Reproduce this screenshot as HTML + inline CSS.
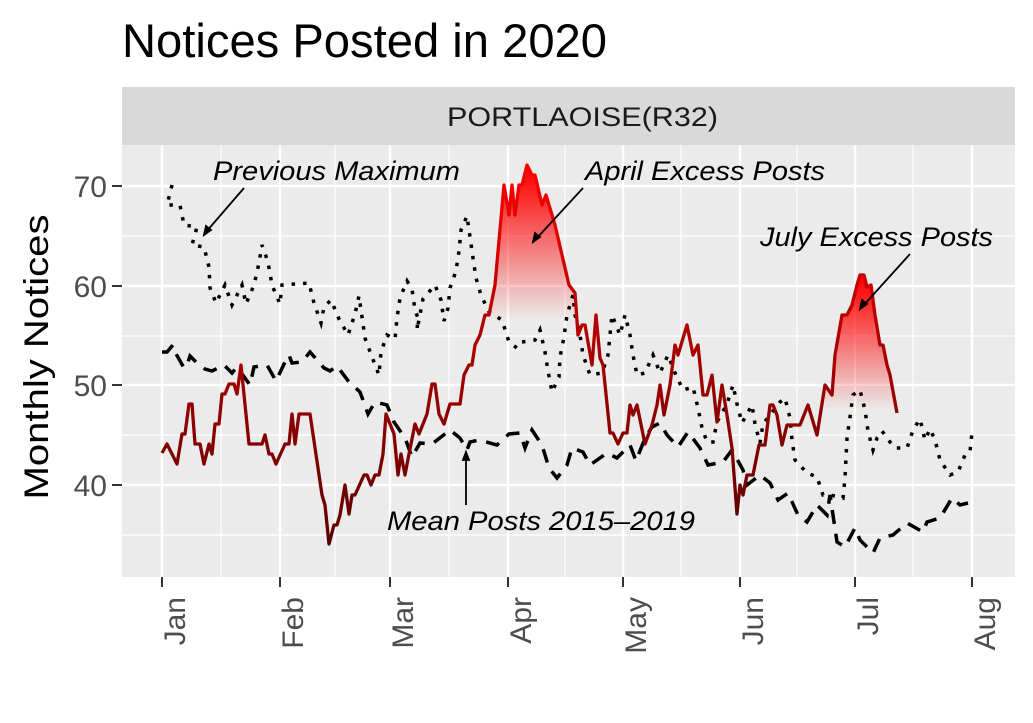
<!DOCTYPE html>
<html><head><meta charset="utf-8"><style>body{margin:0;background:#fff}svg{display:block;font-family:"Liberation Sans",sans-serif}</style></head><body>
<svg width="1033" height="723" viewBox="0 0 1033 723">
<defs>
<linearGradient id="lg" gradientUnits="userSpaceOnUse" x1="0" y1="165" x2="0" y2="545"><stop offset="0" stop-color="#ff0000"/><stop offset="0.45" stop-color="#b00000"/><stop offset="1" stop-color="#5a0000"/></linearGradient>
<linearGradient id="fa" gradientUnits="userSpaceOnUse" x1="0" y1="170" x2="0" y2="320"><stop offset="0" stop-color="#ff0000" stop-opacity="1"/><stop offset="1" stop-color="#ff0000" stop-opacity="0"/></linearGradient>
<linearGradient id="fj" gradientUnits="userSpaceOnUse" x1="0" y1="280" x2="0" y2="410"><stop offset="0" stop-color="#ff0000" stop-opacity="1"/><stop offset="1" stop-color="#ff0000" stop-opacity="0"/></linearGradient>
</defs>
<text x="122" y="57" font-size="47" textLength="485" lengthAdjust="spacingAndGlyphs">Notices Posted in 2020</text>
<rect x="122" y="87" width="893" height="58" fill="#d9d9d9"/>
<text x="447" y="126" font-size="27" textLength="271" lengthAdjust="spacingAndGlyphs" fill="#1a1a1a">PORTLAOISE(R32)</text>
<rect x="122" y="145" width="893" height="432" fill="#ebebeb"/>
<g stroke="#fff" stroke-width="1.2"><line x1="122" x2="1015" y1="236" y2="236"/><line x1="122" x2="1015" y1="336" y2="336"/><line x1="122" x2="1015" y1="435" y2="435"/><line x1="122" x2="1015" y1="535" y2="535"/>
<line y1="145" y2="577" x1="221" x2="221"/><line y1="145" y2="577" x1="335" x2="335"/><line y1="145" y2="577" x1="449" x2="449"/><line y1="145" y2="577" x1="565" x2="565"/><line y1="145" y2="577" x1="681" x2="681"/><line y1="145" y2="577" x1="797" x2="797"/><line y1="145" y2="577" x1="913" x2="913"/></g>
<g stroke="#fff" stroke-width="2.4"><line x1="122" x2="1015" y1="186" y2="186"/><line x1="122" x2="1015" y1="286" y2="286"/><line x1="122" x2="1015" y1="385" y2="385"/><line x1="122" x2="1015" y1="485" y2="485"/>
<line y1="145" y2="577" x1="162" x2="162"/><line y1="145" y2="577" x1="280" x2="280"/><line y1="145" y2="577" x1="390" x2="390"/><line y1="145" y2="577" x1="508" x2="508"/><line y1="145" y2="577" x1="623" x2="623"/><line y1="145" y2="577" x1="740" x2="740"/><line y1="145" y2="577" x1="855" x2="855"/><line y1="145" y2="577" x1="972" x2="972"/></g>
<polygon fill="url(#fa)" points="489,315 495,285 504,185 509,215 512,185 515,215 519,185 522,185 527,165 532,175 535,175 542,205 546,195 555,225 569,285 575,293 578,335 489,335"/>
<polygon fill="url(#fj)" points="825,385 832,395 835,355 842,315 847,315 852,305 857,285 860,275 864,275 867,287 871,285 875,315 880,345 883,345 887,365 890,375 897,413 825,413"/>
<polyline fill="none" stroke="#000" stroke-width="3.5" stroke-dasharray="3.5,8" points="172,185 167,205 180,205 184,225 197,227 192,245 204,247 209,267 210,288 216,303 225,285 232,305 242,285 246,304 254,285 259,263 262,245 268,262 272,285 280,304 282,285 309,283 314,303 321,323 324,307 331,300 339,319 348,335 355,314 359,296 362,317 365,338 372,357 379,375 381,352 387,335 395,339 397,318 400,298 407,281 412,289 415,310 418,318 417,330 423,299 435,285 441,300 444,321 448,308 450,288 456,271 459,251 461,230 467,216 470,237 473,258 476,278 481,295 489,312 502,320 509,342 517,348 522,342 535,340 540,330 545,352 548,371 552,392 559,377 560,357 564,337 567,315 573,295 575,315 580,335 583,355 590,375 602,373 608,355 610,335 612,315 620,335 625,315 630,335 633,355 637,375 645,373 653,355 660,373 668,355 675,373 683,390 693,387 698,408 702,428 707,442 713,442 717,422 727,404 733,385 737,404 742,423 752,405 755,424 760,443 763,424 773,411 780,402 785,398 790,418 792,440 795,460 807,473 817,477 823,495 830,495 843,498 845,478 846,458 847,438 850,417 853,395 860,390 865,410 868,431 873,450 877,438 882,431 890,442 895,448 907,448 913,430 920,419 925,440 930,429 935,440 940,460 950,475 958,472 965,455 970,452 972,432"/>
<polyline fill="none" stroke="#000" stroke-width="3.5" stroke-dasharray="14,10" points="162,352 167,352 173,345 175,352 184,368 187,365 190,356 199,365 205,369 212,371 224,365 232,373 237,367 250,385 254,367 267,365 276,381 285,362 289,355 292,363 302,362 310,352 324,368 330,371 337,366 349,382 360,392 368,414 375,402 387,405 394,422 405,438 412,457 420,443 432,444 450,430 460,438 467,450 470,442 479,440 497,445 509,434 520,433 525,448 532,430 542,445 549,468 557,478 567,465 572,448 583,452 590,465 607,453 617,458 630,445 636,461 645,438 652,427 660,423 667,435 678,447 688,432 700,448 708,465 723,462 732,450 743,470 747,485 760,475 770,483 778,500 788,493 798,515 807,522 817,505 827,515 830,495 837,542 845,547 855,528 860,540 873,553 880,538 893,535 907,523 923,532 927,522 940,518 952,498 960,505 968,503"/>
<polyline fill="none" stroke="url(#lg)" stroke-width="3.3" stroke-linejoin="round" points="162,453 167,444 177,464 182,434 185,434 189,404 192,404 195,444 200,444 204,464 209,444 212,454 215,424 219,424 222,394 225,394 229,384 234,384 237,394 241,365 249,444 262,444 265,435 269,454 272,454 276,464 285,444 289,444 292,414 295,444 299,414 310,414 322,495 325,505 329,544 334,525 337,525 340,515 345,485 349,514 352,495 355,495 364,475 367,475 371,485 375,475 379,475 383,454 386,414 390,424 394,434 398,475 401,454 405,475 409,454 415,424 419,434 427,414 432,384 435,384 439,414 444,424 450,404 460,404 464,375 469,365 472,365 475,345 480,335 485,315 489,315 495,285 504,185 509,215 512,185 515,215 519,185 522,185 527,165 532,175 535,175 542,205 546,195 555,225 569,285 575,293 578,335 582,325 585,325 592,365 596,315 600,358 603,365 610,433 613,433 618,444 623,433 627,433 630,405 633,415 637,405 645,444 652,425 657,405 660,385 664,415 670,385 675,345 678,355 687,325 693,355 698,345 703,395 707,395 712,375 717,422 722,385 727,415 732,448 737,514 740,485 743,495 747,475 753,475 759,445 765,445 770,405 773,405 777,415 782,445 787,425 800,425 808,405 817,435 825,385 832,395 835,355 842,315 847,315 852,305 857,285 860,275 864,275 867,287 871,285 875,315 880,345 883,345 887,365 890,375 897,413"/>
<g stroke="#000" stroke-width="1.8" fill="#000">
<line x1="244" y1="188" x2="206" y2="232"/><polygon points="204,235 206,226 211,230"/>
<line x1="583" y1="188" x2="536" y2="239"/><polygon points="533,242 535,233 540,237"/>
<line x1="910" y1="254" x2="863" y2="306"/><polygon points="860,309 862,300 867,304"/>
<line x1="466" y1="505" x2="466" y2="456"/><polygon points="466,452 463,460 469,460"/>
</g>
<g font-size="27" font-style="italic" fill="#000" lengthAdjust="spacingAndGlyphs">
<text x="213" y="180" textLength="247" lengthAdjust="spacingAndGlyphs">Previous Maximum</text>
<text x="585" y="180" textLength="240" lengthAdjust="spacingAndGlyphs">April Excess Posts</text>
<text x="760" y="246" textLength="233" lengthAdjust="spacingAndGlyphs">July Excess Posts</text>
<text x="387" y="530" textLength="308" lengthAdjust="spacingAndGlyphs">Mean Posts 2015–2019</text>
</g>
<g stroke="#333" stroke-width="2"><line x1="112" x2="122" y1="186" y2="186"/><line x1="112" x2="122" y1="286" y2="286"/><line x1="112" x2="122" y1="385" y2="385"/><line x1="112" x2="122" y1="485" y2="485"/>
<line y1="577" y2="587" x1="162" x2="162"/><line y1="577" y2="587" x1="280" x2="280"/><line y1="577" y2="587" x1="390" x2="390"/><line y1="577" y2="587" x1="508" x2="508"/><line y1="577" y2="587" x1="623" x2="623"/><line y1="577" y2="587" x1="740" x2="740"/><line y1="577" y2="587" x1="855" x2="855"/><line y1="577" y2="587" x1="972" x2="972"/></g>
<g font-size="30" fill="#4d4d4d" text-anchor="end"><text x="107" y="197">70</text><text x="107" y="297">60</text><text x="107" y="396">50</text><text x="107" y="496">40</text></g>
<g font-size="30" fill="#4d4d4d" text-anchor="end">
<text transform="translate(185,597) rotate(-90)">Jan</text>
<text transform="translate(303,597) rotate(-90)">Feb</text>
<text transform="translate(413,597) rotate(-90)">Mar</text>
<text transform="translate(531,597) rotate(-90)">Apr</text>
<text transform="translate(646,597) rotate(-90)">May</text>
<text transform="translate(763,597) rotate(-90)">Jun</text>
<text transform="translate(878,597) rotate(-90)">Jul</text>
<text transform="translate(995,597) rotate(-90)">Aug</text>
</g>
<text transform="translate(48,357) rotate(-90)" font-size="34" text-anchor="middle" textLength="285" lengthAdjust="spacingAndGlyphs">Monthly Notices</text>
</svg>
</body></html>
